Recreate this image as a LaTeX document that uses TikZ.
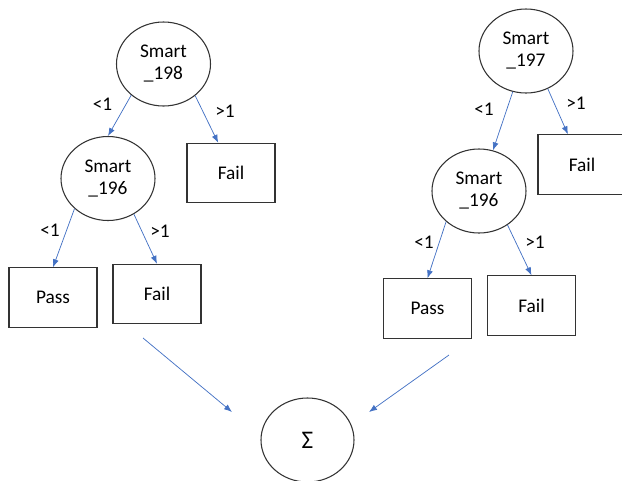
\documentclass[tikz,border=0pt]{standalone}
\usepackage{fontspec}
\setmainfont{Carlito}
\usepackage{xcolor}
\usepackage{tikz}
\usetikzlibrary{arrows.meta}
\usetikzlibrary{shapes.geometric}
\definecolor{edgeblue}{HTML}{4472C4}
\definecolor{outline}{HTML}{333333}
\tikzset{>=latex}
\tikzstyle{split} = [ellipse, draw=outline, line width=0.8pt, minimum width=70.5pt, minimum height=63pt, inner sep=0pt, align=center]
\tikzstyle{leaf} = [rectangle, draw=outline, line width=0.8pt, minimum width=66pt, minimum height=44.5pt, inner sep=0pt]
\tikzstyle{branch} = [-{Latex[length=6pt,width=4.5pt]}, draw=edgeblue, line width=0.55pt]
\tikzstyle{cond} = [inner sep=0pt]

\begin{document}
\begin{tikzpicture}[x=0.75pt, y=-0.75pt, font=\fontsize{14.5}{16.5}\selectfont]
\clip (0,0) rectangle (622,480);

% first tree
\node [split] (s198) at (163.5,64) {Smart\\\_198};
\node [split] (ls196) at (108,178.5) {Smart\\\_196};
\node [leaf] (lfailA) at (231,173) {Fail};
\node [leaf] (lpass) at (53,297.5) {Pass};
\node [leaf] (lfailB) at (157,294) {Fail};
\draw [branch] (s198.224) to (ls196.north);
\draw [branch] (s198.315) to (lfailA.113);
\draw [branch] (ls196.222) to (lpass.north);
\draw [branch] (ls196.306) to (lfailB.north);
\node [cond] (c1) at (102.5,104) {<1};
\node [cond] (c2) at (225,111.5) {>1};
\node [cond] (c3) at (50,230) {<1};
\node [cond] (c4) at (160,231) {>1};

% second tree
\node [split] (s197) at (526,51) {Smart\\\_197};
\node [split] (rs196) at (479,191) {Smart\\\_196};
\node [leaf] (rfailA) at (582,164.5) {Fail};
\node [leaf] (rpass) at (427.5,308.5) {Pass};
\node [leaf] (rfailB) at (531.5,305.5) {Fail};
\draw [branch] (s197.252) to (rs196.71);
\draw [branch] (s197.300) to (rfailA.115);
\draw [branch] (rs196.223) to (rpass.north);
\draw [branch] (rs196.310) to (rfailB.north);
\node [cond] (c5) at (484,109) {<1};
\node [cond] (c6) at (576,103) {>1};
\node [cond] (c7) at (424,242) {<1};
\node [cond] (c8) at (535,242) {>1};

% sum of both trees
\node [split, minimum width=69.75pt, font=\fontsize{19}{19}\selectfont] (sum) at (307.5,440) {Σ};
\coordinate (ltail) at (143,338);
\coordinate (lhead) at (232,412);
\coordinate (rtail) at (449,355);
\coordinate (rhead) at (369,412);
\draw [branch] (ltail) to (lhead);
\draw [branch] (rtail) to (rhead);
\end{tikzpicture}
\end{document}
